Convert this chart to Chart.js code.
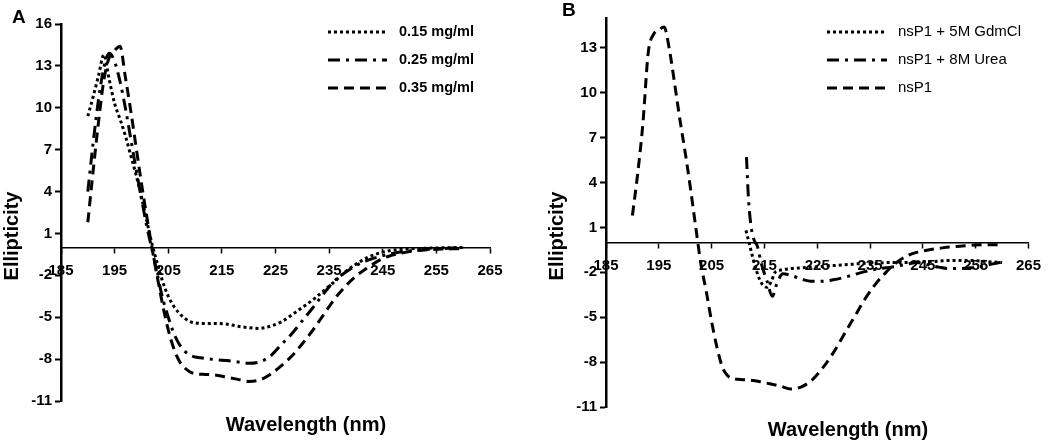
<!DOCTYPE html>
<html>
<head>
<meta charset="utf-8">
<script src="https://cdn.jsdelivr.net/npm/chart.js@4.4.1/dist/chart.umd.min.js"></script>
<style>
  body { margin: 0; background: #fff; font-family: "Liberation Sans", Arial, sans-serif; }
  #wrap { position: relative; width: 1050px; height: 441px; overflow: hidden; }
  .panel { position: absolute; top: 0; width: 525px; height: 441px; }
  .lbl { position: absolute; font-weight: bold; color: #000; line-height: 1; white-space: nowrap; }
  .ctr { transform: translate(-50%, -50%); }
  .rot { transform: translate(-50%, -50%) rotate(-90deg); }
</style>
</head>
<body>
<div id="wrap">
  <div class="panel" style="left:0"><canvas id="chartA" width="525" height="441"></canvas></div>
  <div class="panel" style="left:525px"><canvas id="chartB" width="525" height="441"></canvas></div>
  <div class="lbl" style="left:12px;top:7px;font-size:19px">A</div>
  <div class="lbl" style="left:562px;top:0px;font-size:19px">B</div>
  <div class="lbl rot" style="left:11px;top:236px;font-size:20px">Ellipticity</div>
  <div class="lbl rot" style="left:556px;top:236px;font-size:20px">Ellipticity</div>
  <div class="lbl ctr" style="left:306px;top:424px;font-size:20px">Wavelength (nm)</div>
  <div class="lbl ctr" style="left:848px;top:429px;font-size:20px">Wavelength (nm)</div>
</div>
<script>
// ---- panel A: concentration series ----
const wavelengthsA = [190,191,192,193,194,195,196,197,198,199,200,201,202,203,204,205,206,207,208,209,210,
  212,214,216,218,220,222,224,226,228,230,232,234,236,238,240,242,244,246,248,250,252,254,256,258,260];
const conc015 = [9.4,10.8,12.3,13.8,12.0,10.3,9.2,8.0,6.6,5.2,3.6,1.9,0.2,-1.2,-2.5,-3.5,-4.2,-4.7,-5.05,-5.3,-5.4,
  -5.45,-5.45,-5.5,-5.65,-5.75,-5.8,-5.65,-5.35,-4.85,-4.3,-3.75,-3.1,-2.45,-1.75,-1.2,-0.75,-0.45,-0.25,-0.15,-0.1,-0.07,-0.05,-0.03,-0.02,0];
const conc025 = [4.0,7.5,10.6,12.9,13.9,13.3,11.9,10.0,7.8,5.6,3.5,1.5,-0.2,-2.0,-3.7,-5.0,-6.1,-6.9,-7.4,-7.7,-7.85,
  -7.95,-8.05,-8.1,-8.2,-8.3,-8.2,-7.8,-7.0,-6.2,-5.25,-4.3,-3.3,-2.4,-1.8,-1.3,-0.95,-0.7,-0.5,-0.35,-0.25,-0.18,-0.12,-0.08,-0.05,-0.03];
const conc035 = [1.8,5.5,9.0,12.0,13.6,14.1,14.4,12.2,9.8,7.2,4.6,2.2,-0.1,-2.2,-4.2,-5.9,-7.2,-8.1,-8.6,-8.9,-9.05,
  -9.1,-9.15,-9.3,-9.45,-9.6,-9.5,-9.1,-8.5,-7.8,-6.9,-5.9,-4.8,-3.7,-2.8,-2.05,-1.5,-1.0,-0.65,-0.45,-0.3,-0.2,-0.15,-0.12,-0.1,-0.08];
const labelsA = ["0.15 mg/ml", "0.25 mg/ml", "0.35 mg/ml"];
const yTicksA = [-11,-8,-5,-2,1,4,7,10,13,16];

// ---- panel B: denaturant series ----
const wavelengthsB = wavelengthsA;
const nsp1 = [1.8,4.6,8.0,12.7,13.9,14.2,14.4,12.9,10.6,8.2,6.0,3.6,1.0,-1.5,-3.3,-5.3,-7.0,-8.3,-8.9,-9.1,-9.15,
  -9.2,-9.3,-9.45,-9.6,-9.8,-9.65,-9.2,-8.4,-7.4,-6.2,-5.0,-3.8,-2.8,-2.0,-1.35,-0.9,-0.65,-0.5,-0.4,-0.3,-0.25,-0.2,-0.15,-0.15,-0.15];
const gdmWl = [211.5,212,212.5,213,213.5,214,214.5,215.5,216.3,217,218,
  220,222,224,226,228,230,232,234,236,238,240,242,244,246,248,250,252,254,256,258,260];
const gdm = [0.8,0.1,-0.6,-1.3,-1.9,-2.4,-2.75,-3.0,-2.6,-2.0,-1.85,
  -1.75,-1.7,-1.65,-1.6,-1.55,-1.5,-1.45,-1.4,-1.4,-1.35,-1.35,-1.35,-1.3,-1.3,-1.25,-1.2,-1.2,-1.2,-1.25,-1.3,-1.35];
const ureaWl = [211.6,212,212.5,213,213.7,214.4,215.5,216.5,217.3,218.5,
  220,222,224,226,228,230,232,234,236,238,240,242,244,246,248,250,252,254,256,258,260];
const urea = [5.7,2.8,1.0,0.2,-0.3,-1.4,-2.6,-3.6,-2.8,-2.1,
  -2.2,-2.45,-2.6,-2.6,-2.5,-2.35,-2.15,-1.95,-1.8,-1.7,-1.6,-1.45,-1.35,-1.5,-1.65,-1.75,-1.75,-1.7,-1.6,-1.45,-1.3];
const labelsB = ["nsP1 + 5M GdmCl", "nsP1 + 8M Urea", "nsP1"];
const yTicksB = [-11,-8,-5,-2,1,4,7,10,13];

const DOTTED = [3, 3];
const DASHDOT = [12, 6, 3, 6];
const DASHED = [10, 6];
const FONT = "'Liberation Sans', Arial, sans-serif";

function pts(xs, ys) {
  return xs.map((x, i) => ({ x: x, y: ys[i] }));
}

function line(label, xs, ys, dash) {
  return {
    label: label,
    data: pts(xs, ys),
    borderColor: "#000",
    borderWidth: 3,
    borderDash: dash,
    pointRadius: 0,
    fill: false,
    cubicInterpolationMode: "monotone"
  };
}

// draws the little line samples + names at the top right
const lineLegend = {
  id: "lineLegend",
  afterDraw(chart, args, opts) {
    const ctx = chart.ctx;
    ctx.save();
    chart.data.datasets.forEach((ds, i) => {
      const y = opts.y + i * opts.gap;
      ctx.beginPath();
      ctx.setLineDash(ds.borderDash);
      ctx.lineWidth = ds.borderWidth;
      ctx.strokeStyle = ds.borderColor;
      ctx.moveTo(opts.x, y);
      ctx.lineTo(opts.x + opts.len, y);
      ctx.stroke();
      ctx.setLineDash([]);
      ctx.fillStyle = "#000";
      ctx.font = opts.font;
      ctx.textBaseline = "middle";
      ctx.fillText(ds.label, opts.x + opts.len + opts.pad, y);
    });
    ctx.restore();
  }
};

function makeChart(id, datasets, yMax, yTicks, yWidth, padding, legend) {
  const tickFont = { family: FONT, size: 15, weight: "bold" };
  return new Chart(document.getElementById(id), {
    type: "line",
    data: { datasets: datasets },
    plugins: [lineLegend],
    options: {
      responsive: false,
      animation: false,
      layout: { padding: padding },
      plugins: {
        legend: { display: false },
        tooltip: { enabled: false },
        lineLegend: legend
      },
      scales: {
        x: {
          type: "linear",
          position: { y: 0 },
          min: 185,
          max: 265,
          ticks: { stepSize: 10, autoSkip: false, maxRotation: 0, color: "#000", font: tickFont, padding: 9 },
          grid: { drawOnChartArea: false, drawTicks: true, tickLength: 5, color: "#000", tickWidth: 1.5 },
          border: { color: "#000", width: 1.5 }
        },
        y: {
          type: "linear",
          min: -11,
          max: yMax,
          afterBuildTicks: (scale) => { scale.ticks = yTicks.map(v => ({ value: v })); },
          afterFit: (scale) => { scale.width = yWidth; },
          ticks: { color: "#000", font: tickFont, padding: 3 },
          grid: { drawOnChartArea: false, drawTicks: true, tickLength: 6, color: "#000", tickWidth: 2 },
          border: { color: "#000", width: 2.5 }
        }
      }
    }
  });
}

makeChart("chartA", [
  line(labelsA[0], wavelengthsA, conc015, DOTTED),
  line(labelsA[1], wavelengthsA, conc025, DASHDOT),
  line(labelsA[2], wavelengthsA, conc035, DASHED)
], 16, yTicksA, 61, { top: 24, right: 35, bottom: 40, left: 0 },
  { x: 328, y: 32, gap: 28, len: 59, pad: 12, font: "bold 14.5px " + FONT });

makeChart("chartB", [
  line(labelsB[0], gdmWl, gdm, DOTTED),
  line(labelsB[1], ureaWl, urea, DASHDOT),
  line(labelsB[2], wavelengthsB, nsp1, DASHED)
], 15, yTicksB, 81, { top: 18, right: 20, bottom: 34, left: 0 },
  { x: 302, y: 32, gap: 28, len: 60, pad: 11, font: "15px " + FONT });
</script>
</body>
</html>
